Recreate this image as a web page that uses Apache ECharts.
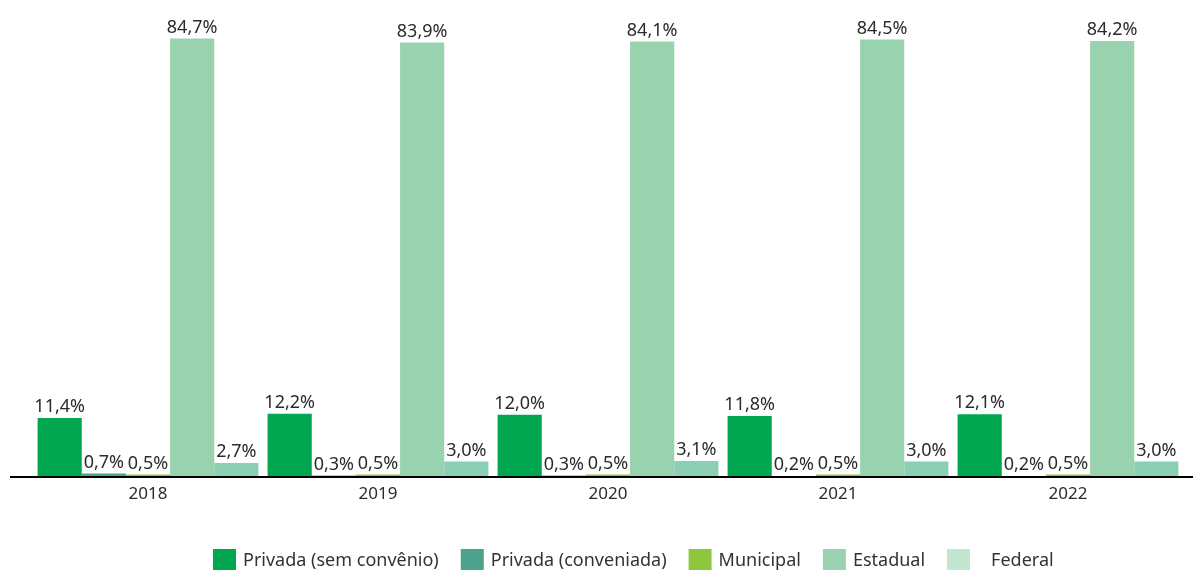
<!DOCTYPE html>
<html>
<head>
<meta charset="utf-8">
<script src="https://cdn.jsdelivr.net/npm/echarts@6/dist/echarts.min.js"></script>
<style>
  html, body { margin: 0; padding: 0; background: #fff; }
  #main { width: 1193px; height: 570px; }
</style>
</head>
<body>
<div id="main"></div>
<script>
// categorias (anos)
var years = ['2018', '2019', '2020', '2021', '2022'];
// séries em %
var privadaSem = [11.4, 12.2, 12.0, 11.8, 12.1];
var privadaConv = [0.7, 0.3, 0.3, 0.2, 0.2];
var municipal = [0.5, 0.5, 0.5, 0.5, 0.5];
var estadual = [84.7, 83.9, 84.1, 84.5, 84.2];
var federal = [2.7, 3.0, 3.1, 3.0, 3.0];

var myChart = echarts.init(document.getElementById('main'));

function fmt(p) {
    return p.value.toFixed(1).replace('.', ',') + '%';
}

function serie(name, data, color) {
    return {
        name: name,
        type: 'bar',
        data: data,
        barGap: '0%',
        barCategoryGap: '4%',
        itemStyle: { color: color },
        label: {
            show: true,
            position: 'top',
            distance: 2,
            color: '#2b2b2b',
            fontSize: 18,
            fontFamily: 'Noto Sans',
            formatter: fmt
        }
    };
}

myChart.setOption({
    animation: false,
    textStyle: { fontFamily: 'Noto Sans' },
    grid: { left: 33, right: 10, top: 11, bottom: 93 },
    // linha de base mais longa que o grid
    graphic: [{
        type: 'line',
        z: 10,
        shape: { x1: 10, y1: 477, x2: 1193, y2: 477 },
        style: { stroke: '#000', lineWidth: 2 }
    }],
    legend: {
        top: 549,
        left: 213,
        padding: 0,
        icon: 'rect',
        itemWidth: 23,
        itemHeight: 23,
        itemGap: 22,
        textStyle: { fontSize: 18, color: '#333', padding: [0, 0, 0, 2] },
        formatter: function (n) { return n === 'Federal' ? '   ' + n : n; },
        data: [
            'Privada (sem convênio)',
            'Privada (conveniada)',
            'Municipal',
            'Estadual',
            { name: 'Federal', itemStyle: { color: '#C3E6D1' } }
        ]
    },
    xAxis: {
        type: 'category',
        data: years,
        axisLine: { show: false },
        axisTick: { show: false },
        axisLabel: { color: '#2b2b2b', fontSize: 17, margin: 9 }
    },
    yAxis: {
        type: 'value',
        min: 0,
        max: 90,
        show: false,
        splitLine: { show: false }
    },
    series: [
        serie('Privada (sem convênio)', privadaSem, '#00A650'),
        serie('Privada (conveniada)', privadaConv, '#4BA38C'),
        serie('Municipal', municipal, '#8DC63F'),
        serie('Estadual', estadual, '#99D2AE'),
        serie('Federal', federal, '#8BCFB5')
    ]
});
</script>
</body>
</html>
